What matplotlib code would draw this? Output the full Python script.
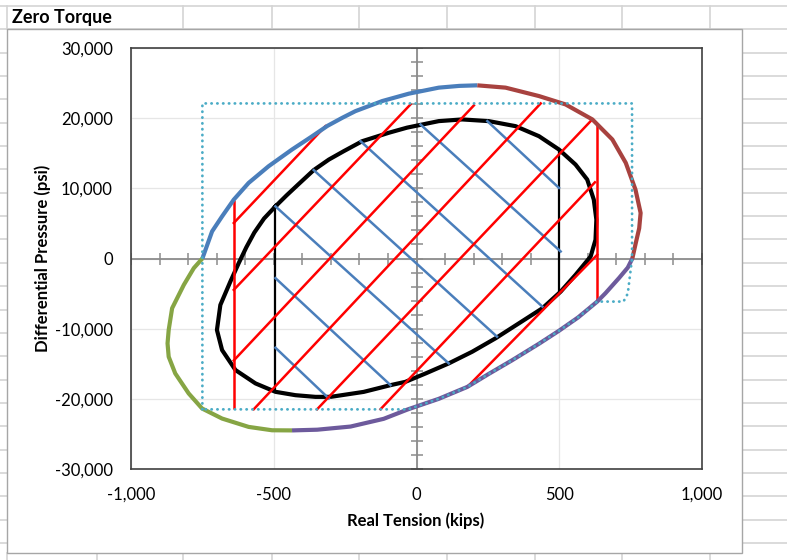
import numpy as np
import matplotlib
matplotlib.use('Agg')
import matplotlib.pyplot as plt
from matplotlib.lines import Line2D
from matplotlib.patches import Rectangle
from matplotlib.ticker import FuncFormatter

plt.rcParams['font.family'] = ['Lato', 'DejaVu Sans']

# outer envelope, four coloured pieces (kips, psi)
blue_x = [-750, -716, -681, -640, -588, -518, -436, -370, -312, -260, -214, -120, -27, 78, 150, 213]
blue_y = [0, 3860, 6000, 8390, 10770, 13150, 15530, 17300, 18900, 20050, 21000, 22440, 23490,
          24350, 24600, 24680]
brown_x = [213, 312, 429, 522, 616, 686, 733, 767, 785, 780, 768, 756]
brown_y = [24680, 24350, 23150, 21960, 19820, 16960, 13630, 9820, 6490, 4300, 2200, 0]
purple_x = [756, 740, 709, 662, 633, 566, 499, 429, 335, 253, 178, 78, -30, -115, -231, -348, -436]
purple_y = [0, -1300, -2800, -4940, -6140, -8400, -10300, -12150, -14500, -16450, -18300,
            -20000, -21500, -22850, -23950, -24400, -24500]
green_x = [-436, -506, -588, -681, -751, -798, -845, -868, -872, -868, -856, -815, -780, -750]
green_y = [-24500, -24480, -24000, -22810, -21380, -19230, -16380, -14000, -12100, -10190,
           -7090, -3760, -1370, 0]

# inner black loop
inner_x = [-494, -455, -413, -360, -307, -255, -190, -97, -33, 78, 160, 253, 347, 429, 499, 557,
           598, 621, 630, 627, 610, 557, 505, 441, 359, 277, 195, 113, 32, -39, -91, -185, -301,
           -354, -424, -494, -564, -634, -681, -699, -687, -652, -622, -596, -568, -534, -494]
inner_y = [7430, 9000, 10600, 12600, 14100, 15290, 16720, 17920, 18650, 19580, 19820, 19580,
           18860, 17430, 15530, 13390, 11250, 8390, 5530, 2670, 290, -2330, -4720, -7090, -9230,
           -11370, -13290, -14950, -16380, -17580, -18050, -19010, -19720, -19720, -19480,
           -19000, -17800, -15900, -13050, -10190, -6620, -3290, -600, 1600, 3700, 5700, 7430]

# dotted boundary: a corner list, then it runs along the purple curve
box_corner_x = [-750, -750, 755, 755, 740, 725]
box_corner_y = [-21500, 22100, 22100, 0, -5000, -6140]

# red hatch lines and verticals
red_x0 = [-640, -640, -640, -570, -348, -126, 178]
red_y0 = [5060, -4470, -14530, -21480, -21480, -21480, -18300]
red_x1 = [-319, -21, 201, 435, 610, 625, 633]
red_y1 = [18860, 21960, 21820, 22100, 19580, 10860, 530]
redv_x = [-640, 633]
redv_top = [8390, 19110]
redv_bot = [-21480, -6140]

# blue hatch lines
bl_x0 = [-494, -494, -494, -360, -196, 14, 248]
bl_y0 = [7430, -2800, -12720, 12600, 16720, 19100, 19580]
bl_x1 = [113, -91, -307, 282, 441, 505, 499]
bl_y1 = [-14950, -18050, -19950, -11140, -6860, 1000, 10060]

# black verticals
blkv_x = [-494, 500]
blkv_top = [7430, 15430]
blkv_bot = [-19000, -4720]

box_x = box_corner_x + purple_x[4:13] + [-750]
box_y = box_corner_y + purple_y[4:13] + [-21500]

W, H = 787, 560
fig = plt.figure(figsize=(W / 100, H / 100), dpi=100)

def fx(p):
    return p / W

def fy(p):
    return 1 - p / H

# spreadsheet cells behind the chart
cell = '#d4d4d4'
for r in np.arange(6, 560, 23.35):
    fig.add_artist(Line2D([0, 1], [fy(r), fy(r)], color=cell, lw=1.2, zorder=0))
for c in [7, 183, 272, 359, 447, 535, 622, 710]:
    fig.add_artist(Line2D([fx(c), fx(c)], [fy(6), fy(29)], color=cell, lw=1.2, zorder=0))
for c in [7, 97, 183, 272, 359, 447, 535, 622, 710]:
    fig.add_artist(Line2D([fx(c), fx(c)], [fy(553), 0], color=cell, lw=1.2, zorder=0))
fig.add_artist(Rectangle((fx(7), fy(553)), fx(742 - 7), (553 - 29) / H,
                         transform=fig.transFigure, facecolor='white',
                         edgecolor='#a6a6a6', lw=1, zorder=1))
fig.text(fx(12), fy(17), 'Zero Torque', fontsize=13, weight='bold', va='center')

ax = fig.add_axes([fx(131), fy(469), fx(571), 421 / H])
ax.set_zorder(2)
ax.set_xlim(-1000, 1000)
ax.set_ylim(-30000, 30000)
ax.set_xticks([-1000, -500, 0, 500, 1000])
ax.set_yticks(np.arange(-30000, 30001, 10000))
fmt = FuncFormatter(lambda v, p: '{:,.0f}'.format(v))
ax.xaxis.set_major_formatter(fmt)
ax.yaxis.set_major_formatter(fmt)
ax.tick_params(length=0, labelsize=12, pad=13)
ax.grid(color='#e6e6e6', lw=0.9)
ax.set_axisbelow(True)
for s in ax.spines.values():
    s.set_color('#404040')
    s.set_linewidth(1.2)

# axes through zero with cross ticks
ax.axhline(0, color='#8c8c8c', lw=1.3, zorder=1.5)
ax.axvline(0, color='#8c8c8c', lw=1.3, zorder=1.5)
xt = np.arange(-1000, 1001, 100)
yt = np.arange(-30000, 30001, 2000)
ax.plot(xt, np.zeros_like(xt), ls='none', marker='|', ms=8, mew=1.1, color='#8c8c8c', zorder=1.5)
ax.plot(np.zeros_like(yt), yt, ls='none', marker='_', ms=8, mew=1.1, color='#8c8c8c', zorder=1.5)

ax.plot(inner_x, inner_y, color='black', lw=3, zorder=3, solid_joinstyle='round')
ax.vlines(blkv_x, blkv_bot, blkv_top, color='black', lw=1.6, zorder=3)
for i in range(len(bl_x0)):
    ax.plot([bl_x0[i], bl_x1[i]], [bl_y0[i], bl_y1[i]], color='#4a7ebb', lw=1.8, zorder=4)
for i in range(len(red_x0)):
    ax.plot([red_x0[i], red_x1[i]], [red_y0[i], red_y1[i]], color='red', lw=1.8, zorder=5)
ax.vlines(redv_x, redv_bot, redv_top, color='red', lw=1.8, zorder=5)

for xs, ys, col in [(blue_x, blue_y, '#4a7ebb'), (brown_x, brown_y, '#a8423f'),
                    (purple_x, purple_y, '#6d5a9c'), (green_x, green_y, '#86a544')]:
    ax.plot(xs, ys, color=col, lw=3, zorder=6, solid_capstyle='butt', solid_joinstyle='round')
ax.plot(box_x, box_y, color='#4bacc6', lw=2, ls=(0, (0.1, 2)), dash_capstyle='round', zorder=7)

fig.text(fx(416), fy(521), 'Real Tension (kips)', fontsize=12, weight='bold', ha='center', va='center')
fig.text(fx(43), fy(258), 'Differential Pressure (psi)', fontsize=12, weight='bold',
         ha='center', va='center', rotation=90)

fig.savefig('out.png', dpi=100)
